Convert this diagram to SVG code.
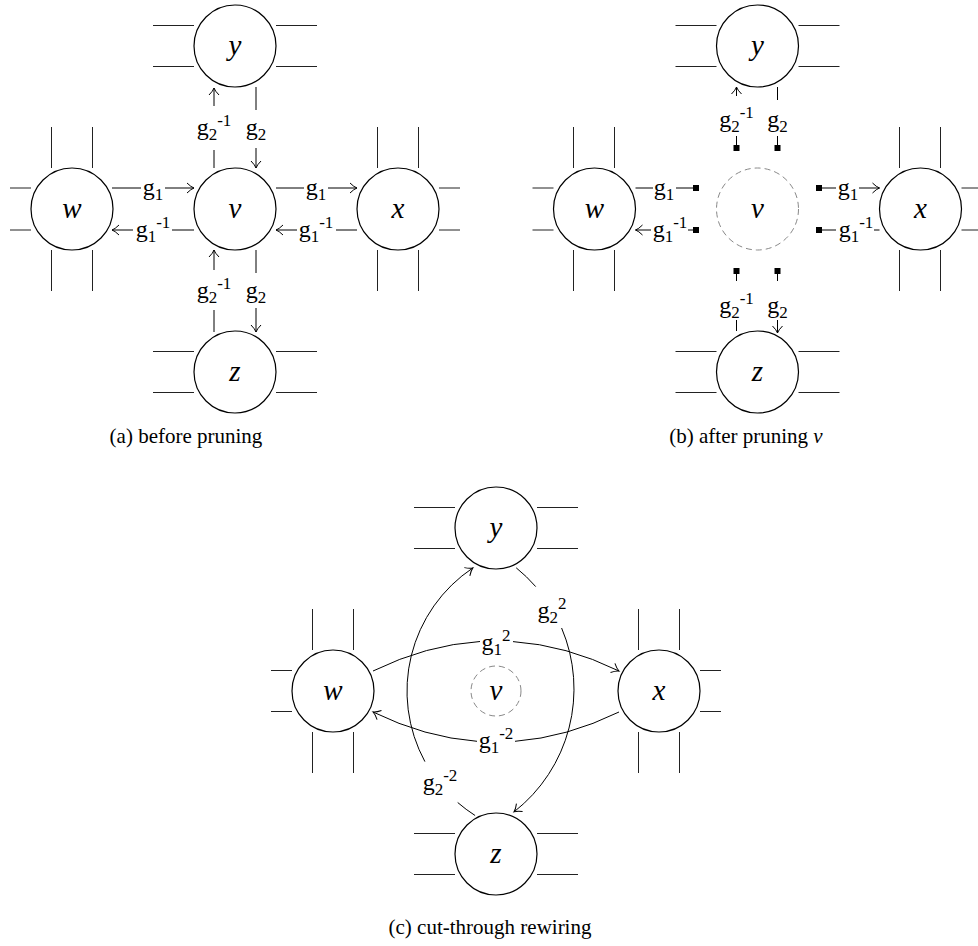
<svg xmlns="http://www.w3.org/2000/svg" width="978" height="946" viewBox="0 0 978 946" font-family="'Liberation Serif', 'Times New Roman', serif">
<defs>
<marker id="ar" markerUnits="userSpaceOnUse" markerWidth="10" markerHeight="12" viewBox="-8 -6 10 12" refX="0" refY="0" orient="auto">
<path d="M-7,-5 Q-3,-1 0,0 Q-3,1 -7,5" fill="none" stroke="#000" stroke-width="1"/>
</marker>
</defs>
<rect width="978" height="946" fill="#fff"/>

<g id="a-y"><path stroke="#222" fill="none" d="M153,25.5H194M276,25.5H317M153,66.5H194M276,66.5H317"/><circle fill="#fff" stroke="#000" stroke-width="1.2" cx="235" cy="46" r="41"/><text font-style="italic" font-size="29" text-anchor="middle" x="235" y="55">y</text></g>
<g id="a-w"><path stroke="#222" fill="none" d="M51.5,127V168M92.5,127V168M51.5,250V291M92.5,250V291M10,188H31M10,230H31"/><circle fill="#fff" stroke="#000" stroke-width="1.2" cx="72" cy="209" r="41"/><text font-style="italic" font-size="29" text-anchor="middle" x="72" y="218">w</text></g>
<g id="a-v"><circle fill="#fff" stroke="#000" stroke-width="1.2" cx="235" cy="209" r="41"/><text font-style="italic" font-size="29" text-anchor="middle" x="235" y="218">v</text></g>
<g id="a-x"><path stroke="#222" fill="none" d="M377.5,127V168M418.5,127V168M377.5,250V291M418.5,250V291M439,188H460M439,230H460"/><circle fill="#fff" stroke="#000" stroke-width="1.2" cx="398" cy="209" r="41"/><text font-style="italic" font-size="29" text-anchor="middle" x="398" y="218">x</text></g>
<g id="a-z"><path stroke="#222" fill="none" d="M153,351.5H194M276,351.5H317M153,392.5H194M276,392.5H317"/><circle fill="#fff" stroke="#000" stroke-width="1.2" cx="235" cy="372" r="41"/><text font-style="italic" font-size="29" text-anchor="middle" x="235" y="381">z</text></g>

<g id="a-edges">
<g stroke="#000" fill="none">
<path d="M214,106V88" marker-end="url(#ar)"/><path d="M214,150V168"/>
<path d="M256,87V110"/><path d="M256,148V168" marker-end="url(#ar)"/>
<path d="M214,270V250" marker-end="url(#ar)"/><path d="M214,310V332"/>
<path d="M256,250V273"/><path d="M256,308V332" marker-end="url(#ar)"/>
<path d="M112,188H141"/><path d="M165,188H194" marker-end="url(#ar)"/>
<path d="M133,230H112" marker-end="url(#ar)"/><path d="M172,230H194"/>
<path d="M276,188H304"/><path d="M328,188H357" marker-end="url(#ar)"/>
<path d="M297,230H276" marker-end="url(#ar)"/><path d="M336,230H357"/>
</g>
<g font-size="24" text-anchor="middle" fill="#000">
<text x="214" y="135">g<tspan font-size="17" dy="5">2</tspan><tspan font-size="17" dy="-14">-1</tspan></text>
<text x="256" y="135">g<tspan font-size="17" dy="5">2</tspan></text>
<text x="214" y="298">g<tspan font-size="17" dy="5">2</tspan><tspan font-size="17" dy="-14">-1</tspan></text>
<text x="256" y="298">g<tspan font-size="17" dy="5">2</tspan></text>
<text x="153" y="195">g<tspan font-size="17" dy="5">1</tspan></text>
<text x="153" y="237">g<tspan font-size="17" dy="5">1</tspan><tspan font-size="17" dy="-14">-1</tspan></text>
<text x="316" y="195">g<tspan font-size="17" dy="5">1</tspan></text>
<text x="316" y="237">g<tspan font-size="17" dy="5">1</tspan><tspan font-size="17" dy="-14">-1</tspan></text>
</g>
</g>
<text font-size="21" x="186" y="443" text-anchor="middle">(a)  before pruning</text>

<g id="b-y"><path stroke="#222" fill="none" d="M675.5,25.5H716.5M798.5,25.5H839.5M675.5,66.5H716.5M798.5,66.5H839.5"/><circle fill="#fff" stroke="#000" stroke-width="1.2" cx="757.5" cy="46" r="41"/><text font-style="italic" font-size="29" text-anchor="middle" x="757.5" y="55">y</text></g>
<g id="b-w"><path stroke="#222" fill="none" d="M573.5,127V168M614.5,127V168M573.5,250V291M614.5,250V291M532.5,188H553.5M532.5,230H553.5"/><circle fill="#fff" stroke="#000" stroke-width="1.2" cx="594.5" cy="209" r="41"/><text font-style="italic" font-size="29" text-anchor="middle" x="594.5" y="218">w</text></g>
<g id="b-v"><circle fill="none" stroke="#888" stroke-dasharray="6 4" cx="757.5" cy="209" r="41"/><text font-style="italic" font-size="29" text-anchor="middle" x="757.5" y="218">v</text></g>
<g id="b-x"><path stroke="#222" fill="none" d="M899.5,127V168M940.5,127V168M899.5,250V291M940.5,250V291M961.5,188H982M961.5,230H982"/><circle fill="#fff" stroke="#000" stroke-width="1.2" cx="920.5" cy="209" r="41"/><text font-style="italic" font-size="29" text-anchor="middle" x="920.5" y="218">x</text></g>
<g id="b-z"><path stroke="#222" fill="none" d="M675.5,351.5H716.5M798.5,351.5H839.5M675.5,392.5H716.5M798.5,392.5H839.5"/><circle fill="#fff" stroke="#000" stroke-width="1.2" cx="757.5" cy="372" r="41"/><text font-style="italic" font-size="29" text-anchor="middle" x="757.5" y="381">z</text></g>

<g id="b-edges">
<g stroke="#000" fill="none">
<path d="M736.5,96V87" marker-end="url(#ar)"/><path d="M736.5,136V146"/>
<path d="M777.5,87V100"/><path d="M777.5,136V146"/>
<path d="M736.5,273V281"/><path d="M736.5,320V331"/>
<path d="M777.5,273V281"/><path d="M777.5,320V333" marker-end="url(#ar)"/>
<path d="M635.5,188H653"/><path d="M676,188H694"/>
<path d="M651,230H635.5" marker-end="url(#ar)"/><path d="M688,230H694"/>
<path d="M821,188H836"/><path d="M859,188H879.5" marker-end="url(#ar)"/>
<path d="M821,230H836"/><path d="M874,230H879.5"/>
</g>
<g fill="#000">
<rect x="733.5" y="145" width="6" height="6"/><rect x="774.5" y="145" width="6" height="6"/>
<rect x="733.5" y="268" width="6" height="6"/><rect x="774.5" y="268" width="6" height="6"/>
<rect x="693" y="185" width="6" height="6"/><rect x="693" y="227" width="6" height="6"/>
<rect x="816" y="185" width="6" height="6"/><rect x="816" y="227" width="6" height="6"/>
</g>
<g font-size="24" text-anchor="middle" fill="#000">
<text x="736.5" y="127">g<tspan font-size="17" dy="5">2</tspan><tspan font-size="17" dy="-14">-1</tspan></text>
<text x="777.5" y="127">g<tspan font-size="17" dy="5">2</tspan></text>
<text x="736.5" y="313">g<tspan font-size="17" dy="5">2</tspan><tspan font-size="17" dy="-14">-1</tspan></text>
<text x="777.5" y="313">g<tspan font-size="17" dy="5">2</tspan></text>
<text x="664" y="195">g<tspan font-size="17" dy="5">1</tspan></text>
<text x="670" y="237">g<tspan font-size="17" dy="5">1</tspan><tspan font-size="17" dy="-14">-1</tspan></text>
<text x="848" y="195">g<tspan font-size="17" dy="5">1</tspan></text>
<text x="856" y="237">g<tspan font-size="17" dy="5">1</tspan><tspan font-size="17" dy="-14">-1</tspan></text>
</g>
</g>
<text font-size="21" x="746" y="443" text-anchor="middle">(b)  after pruning <tspan font-style="italic">v</tspan></text>

<g id="c-y"><path stroke="#222" fill="none" d="M414,507.5H455M537,507.5H578M414,548.5H455M537,548.5H578"/><circle fill="#fff" stroke="#000" stroke-width="1.2" cx="496" cy="528" r="41"/><text font-style="italic" font-size="29" text-anchor="middle" x="496" y="537">y</text></g>
<g id="c-w"><path stroke="#222" fill="none" d="M312.5,609V650M353.5,609V650M312.5,732V773M353.5,732V773M271,670.5H292M271,711.5H292"/><circle fill="#fff" stroke="#000" stroke-width="1.2" cx="333" cy="691" r="41"/><text font-style="italic" font-size="29" text-anchor="middle" x="333" y="700">w</text></g>
<g id="c-v"><circle fill="none" stroke="#888" stroke-dasharray="6 4" cx="496" cy="691" r="25"/><text font-style="italic" font-size="29" text-anchor="middle" x="496" y="700">v</text></g>
<g id="c-x"><path stroke="#222" fill="none" d="M638.5,609V650M679.5,609V650M638.5,732V773M679.5,732V773M700,670.5H721M700,711.5H721"/><circle fill="#fff" stroke="#000" stroke-width="1.2" cx="659" cy="691" r="41"/><text font-style="italic" font-size="29" text-anchor="middle" x="659" y="700">x</text></g>
<g id="c-z"><path stroke="#222" fill="none" d="M414,833.5H455M537,833.5H578M414,874.5H455M537,874.5H578"/><circle fill="#fff" stroke="#000" stroke-width="1.2" cx="496" cy="854" r="41"/><text font-style="italic" font-size="29" text-anchor="middle" x="496" y="863">z</text></g>

<g id="c-edges">
<g stroke="#000" fill="none">
<path d="M373,671 Q426.5,644.9 480,641.5"/><path d="M513,641.6 Q566,645.1 619,671" marker-end="url(#ar)"/>
<path d="M619,712 Q567,737.4 515,741.3"/><path d="M477,741.3 Q425,737.4 373,712" marker-end="url(#ar)"/>
<path d="M516.2,567.8 A156,156 0 0 1 535.7,586.6"/><path d="M561.6,628 A156,156 0 0 1 514,811.9" marker-end="url(#ar)"/>
<path d="M475.1,815.5 A148,148 0 0 1 457.7,802.5"/><path d="M424.9,761.6 A148,148 0 0 1 472.9,567.9" marker-end="url(#ar)"/>
</g>
<g font-size="24" text-anchor="middle" fill="#000">
<text x="496" y="650">g<tspan font-size="17" dy="5">1</tspan><tspan font-size="17" dy="-14">2</tspan></text>
<text x="496" y="748">g<tspan font-size="17" dy="5">1</tspan><tspan font-size="17" dy="-14">-2</tspan></text>
<text x="552" y="618">g<tspan font-size="17" dy="5">2</tspan><tspan font-size="17" dy="-14">2</tspan></text>
<text x="440" y="790">g<tspan font-size="17" dy="5">2</tspan><tspan font-size="17" dy="-14">-2</tspan></text>
</g>
</g>
<text font-size="21" x="490" y="934" text-anchor="middle">(c)  cut-through rewiring</text>
</svg>
